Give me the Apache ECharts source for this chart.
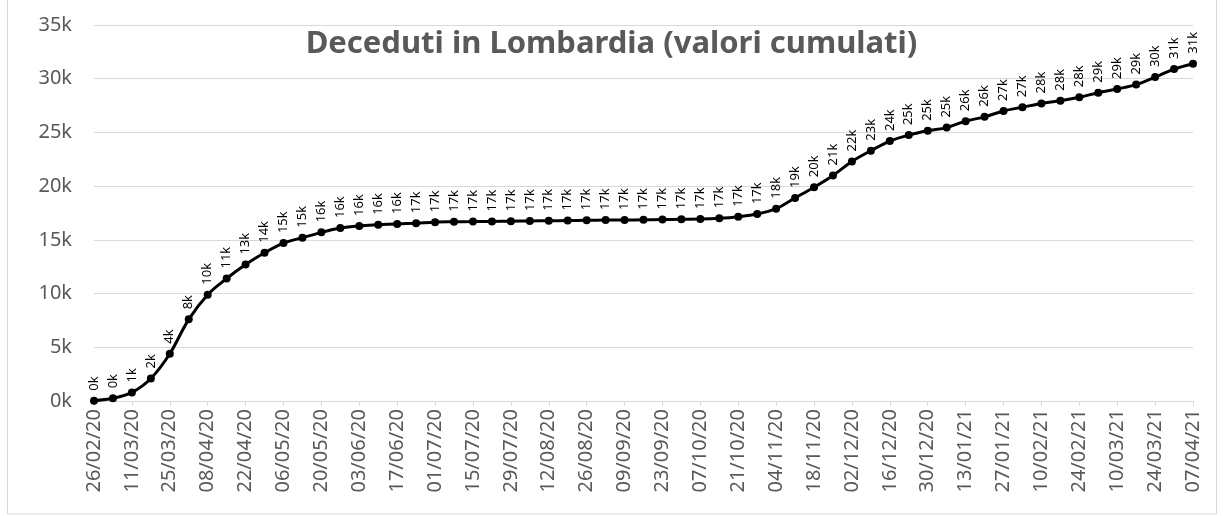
<!DOCTYPE html>
<html>
<head>
<meta charset="utf-8">
<script src="https://cdn.jsdelivr.net/npm/echarts@6/dist/echarts.min.js"></script>
<style>
  html, body { margin: 0; padding: 0; background: #fff; }
  #chart { width: 1223px; height: 516px; }
</style>
</head>
<body>
<div id="chart"></div>
<script>
// date settimanali
const dates = [
  '26/02/20', '04/03/20', '11/03/20', '18/03/20', '25/03/20', '01/04/20', '08/04/20', '15/04/20',
  '22/04/20', '29/04/20', '06/05/20', '13/05/20', '20/05/20', '27/05/20', '03/06/20', '10/06/20',
  '17/06/20', '24/06/20', '01/07/20', '08/07/20', '15/07/20', '22/07/20', '29/07/20', '05/08/20',
  '12/08/20', '19/08/20', '26/08/20', '02/09/20', '09/09/20', '16/09/20', '23/09/20', '30/09/20',
  '07/10/20', '14/10/20', '21/10/20', '28/10/20', '04/11/20', '11/11/20', '18/11/20', '25/11/20',
  '02/12/20', '09/12/20', '16/12/20', '23/12/20', '30/12/20', '06/01/21', '13/01/21', '20/01/21',
  '27/01/21', '03/02/21', '10/02/21', '17/02/21', '24/02/21', '03/03/21', '10/03/21', '17/03/21',
  '24/03/21', '31/03/21', '07/04/21'
];

// deceduti cumulati
const deceduti = [
  30, 250, 800, 2100, 4400, 7600, 9900, 11400,
  12700, 13800, 14700, 15200, 15700, 16100, 16300, 16400,
  16480, 16550, 16650, 16680, 16700, 16720, 16740, 16760,
  16780, 16800, 16820, 16840, 16850, 16870, 16890, 16910,
  16930, 17000, 17150, 17400, 17900, 18900, 19900, 21000,
  22300, 23300, 24200, 24750, 25150, 25450, 26050, 26450,
  27000, 27350, 27700, 27950, 28280, 28700, 29050, 29450,
  30150, 30900, 31400
];

const yTicks = { min: 0, max: 35000, step: 5000 };

const grigio = '#595959';
const linee = '#d9d9d9';
const font = '"Noto Sans", "Open Sans", sans-serif';

const chart = echarts.init(document.getElementById('chart'));

const option = {
  backgroundColor: '#fff',
  animation: false,
  title: {
    text: 'Deceduti in Lombardia (valori cumulati)',
    left: 'center',
    top: 24,
    textStyle: { color: grigio, fontSize: 31, fontWeight: 'bold', fontFamily: font }
  },
  graphic: [{
    type: 'rect',
    shape: { x: 7.5, y: -2, width: 1209, height: 516 },
    style: { fill: 'none', stroke: linee, lineWidth: 1 },
    silent: true
  }],
  grid: { left: 94, right: 30, top: 25, bottom: 115 },
  xAxis: {
    type: 'category',
    data: dates,
    boundaryGap: false,
    axisLine: { lineStyle: { color: linee, width: 1 } },
    axisTick: { interval: 1, length: 5, lineStyle: { color: linee } },
    axisLabel: {
      interval: 1,
      rotate: 90,
      margin: 8,
      color: grigio,
      fontSize: 20,
      fontFamily: font
    }
  },
  yAxis: {
    type: 'value',
    min: yTicks.min,
    max: yTicks.max,
    interval: yTicks.step,
    axisLine: { show: false },
    axisTick: { show: false },
    splitLine: { lineStyle: { color: linee, width: 1 } },
    axisLabel: {
      margin: 22,
      color: grigio,
      fontSize: 20,
      fontFamily: font,
      formatter: v => (v / 1000) + 'k'
    }
  },
  series: [{
    type: 'line',
    data: deceduti,
    smooth: 0.35,
    symbol: 'circle',
    symbolSize: 8,
    itemStyle: { color: '#000' },
    lineStyle: { color: '#000', width: 3 },
    label: {
      show: true,
      position: 'top',
      rotate: 90,
      align: 'left',
      verticalAlign: 'middle',
      distance: 6,
      color: '#000',
      fontSize: 13,
      fontFamily: font,
      formatter: p => Math.round(p.value / 1000) + 'k'
    }
  }]
};

chart.setOption(option);
</script>
</body>
</html>
